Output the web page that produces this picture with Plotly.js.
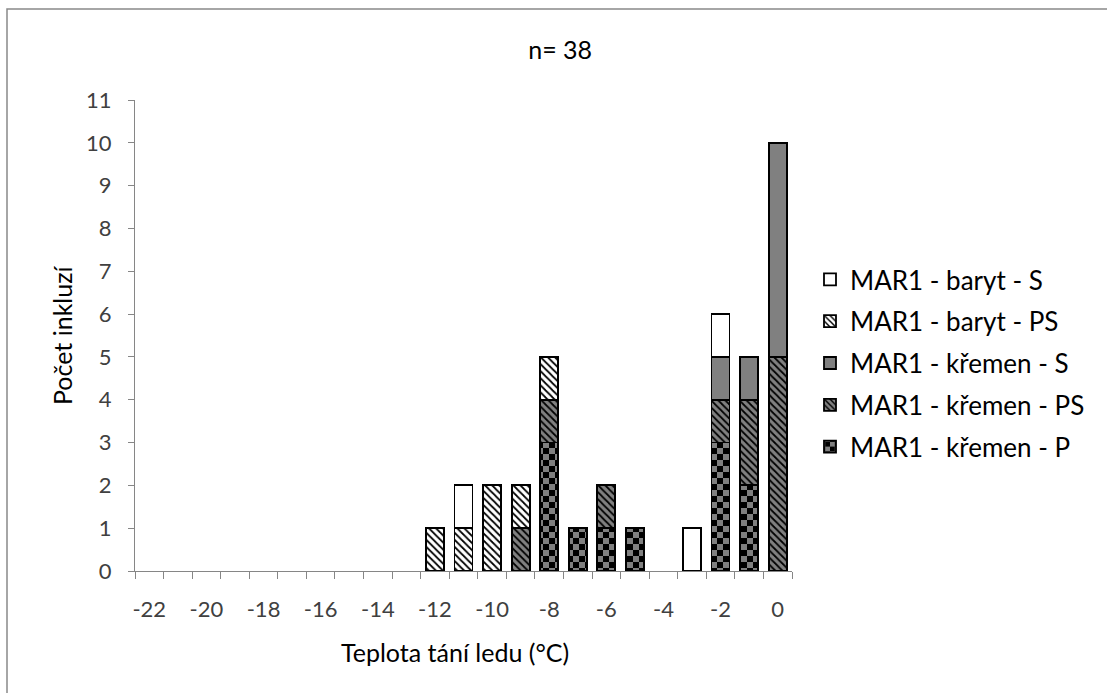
<!DOCTYPE html>
<html>
<head>
<meta charset="utf-8">
<script src="https://cdn.plot.ly/plotly-3.0.1.min.js"></script>
<style>html,body{margin:0;padding:0;background:#fff;}#chart{width:1107px;height:693px;}</style>
</head>
<body>
<div id="chart"></div>
<script>
// Temperature categories (°C) where bars exist
const temps = [-12, -11, -10, -9, -8, -7, -6, -5, -3, -2, -1, 0];
// Counts per series (null = no bar)
const kremenP  = [null, null, null, null, 3, 1, 1, 1, null, 3, 2, null];
const kremenPS = [null, null, null, 1, 1, null, 1, null, null, 1, 2, 5];
const kremenS  = [null, null, null, null, null, null, null, null, null, 1, 1, 5];
const barytPS  = [1, 1, 2, 1, 1, null, null, null, null, null, null, null];
const barytS   = [null, 1, null, null, null, null, null, null, 1, 1, null, null];
const seriesNames = ['MAR1 - křemen - P', 'MAR1 - křemen - PS', 'MAR1 - křemen - S', 'MAR1 - baryt - PS', 'MAR1 - baryt - S'];
const xTickVals = [-22, -20, -18, -16, -14, -12, -10, -8, -6, -4, -2, 0];
const yTickVals = [0, 1, 2, 3, 4, 5, 6, 7, 8, 9, 10, 11];
const chartTitle = 'n= 38';
const xTitle = 'Teplota tání ledu (°C)';
const yTitle = 'Počet inkluzí';

const FONT = 'Lato, "Open Sans", sans-serif';
const line = {color: '#000', width: 1.8};
function bar(y, name, pattern, group, rank) {
  return {type: 'bar', x: temps, y: y, name: name, legendgroup: group, legendrank: rank,
    marker: Object.assign({line: line}, pattern), hoverinfo: 'x+y+name'};
}
const traces = [
  bar(kremenP, seriesNames[0], {color: '#808080', pattern: {shape: '.', fgcolor: '#000', bgcolor: '#808080', size: 12, solidity: 0.5, fillmode: 'replace'}}, 'g1', 5),
  bar(kremenPS, seriesNames[1], {color: '#808080', pattern: {shape: '\\', fgcolor: '#000', bgcolor: '#808080', size: 5, solidity: 0.35, fillmode: 'replace'}}, 'g2', 4),
  bar(kremenS, seriesNames[2], {color: '#808080'}, 'g3', 3),
  bar(barytPS, seriesNames[3], {color: '#ffffff', pattern: {shape: '\\', fgcolor: '#000', bgcolor: '#ffffff', size: 5, solidity: 0.35, fillmode: 'replace'}}, 'g4', 2),
  bar(barytS, seriesNames[4], {color: '#ffffff'}, 'g5', 1)
];

const L = 135, R = 792, T = 100, B = 571, W = 1107, H = 693;
const pw = R - L, ph = B - T;
const px = v => (v - L) / pw;
const py = v => (B - v) / ph;

const layout = {
  width: W, height: H,
  margin: {l: L, r: W - R, t: T, b: H - B, pad: 0},
  paper_bgcolor: '#fff', plot_bgcolor: '#fff',
  font: {family: FONT, color: '#404040', size: 22},
  barmode: 'stack', bargap: 0.37,
  showlegend: true,
  title: {text: chartTitle, x: 0.506, xref: 'container', xanchor: 'center', y: 1 - 50 / H, yref: 'container', yanchor: 'middle', font: {family: FONT, size: 25, color: '#000'}},
  xaxis: {range: [-22.5, 0.5], tickmode: 'array', tickvals: xTickVals, ticktext: xTickVals.map(String),
    ticks: '', showgrid: false, zeroline: false, showline: true, linecolor: '#868686', linewidth: 1,
    ticklabelstandoff: 19, tickfont: {size: 22, color: '#404040'},
    minor: {ticks: 'outside', tick0: -22.5, dtick: 1, ticklen: 7, tickcolor: '#868686', tickwidth: 1, showgrid: false},
    fixedrange: true},
  yaxis: {range: [0, 11], tickmode: 'array', tickvals: yTickVals, ticks: 'outside', ticklen: 6, tickcolor: '#868686',
    showgrid: false, zeroline: false, showline: true, linecolor: '#868686', linewidth: 1,
    ticklabelstandoff: 12, tickfont: {size: 22, color: '#404040'}, fixedrange: true},
  legend: {x: px(810), xanchor: 'left', y: py(256), yanchor: 'top', traceorder: 'grouped', tracegroupgap: 5,
    font: {family: FONT, size: 26, color: '#000'}, bgcolor: 'rgba(0,0,0,0)', itemclick: false, itemdoubleclick: false},
  annotations: [
    {text: xTitle, xref: 'paper', yref: 'paper', x: px(455), y: py(652), xanchor: 'center', yanchor: 'middle', showarrow: false, font: {family: FONT, size: 25, color: '#000'}},
    {text: yTitle, xref: 'paper', yref: 'paper', x: px(62), y: py(335), xanchor: 'center', yanchor: 'middle', textangle: -90, showarrow: false, font: {family: FONT, size: 25, color: '#000'}}
  ],
  shapes: [
    {type: 'rect', xref: 'paper', yref: 'paper', x0: px(7), y0: py(H + 20), x1: px(W + 20), y1: py(9), line: {color: '#898989', width: 1.5}, fillcolor: 'rgba(0,0,0,0)', layer: 'below'}
  ]
};

function patchChecker() {
  const NS = 'http://www.w3.org/2000/svg';
  document.querySelectorAll('pattern').forEach(p => {
    if (!p.querySelector('circle') || p.getAttribute('data-checker')) return;
    p.setAttribute('data-checker', '1');
    p.setAttribute('width', 12); p.setAttribute('height', 12);
    while (p.firstChild) p.removeChild(p.firstChild);
    const mk = (x, y, w, h, f) => { const r = document.createElementNS(NS, 'rect'); r.setAttribute('x', x); r.setAttribute('y', y); r.setAttribute('width', w); r.setAttribute('height', h); r.setAttribute('fill', f); p.appendChild(r); };
    mk(0, 0, 12, 12, '#808080');
    mk(0, 0, 6, 6, '#000');
    mk(6, 6, 6, 6, '#000');
  });
}
const gd = document.getElementById('chart');
Plotly.newPlot(gd, traces, layout, {displayModeBar: false, staticPlot: false}).then(() => {
  patchChecker();
  gd.on('plotly_afterplot', patchChecker);
});
</script>
</body>
</html>
